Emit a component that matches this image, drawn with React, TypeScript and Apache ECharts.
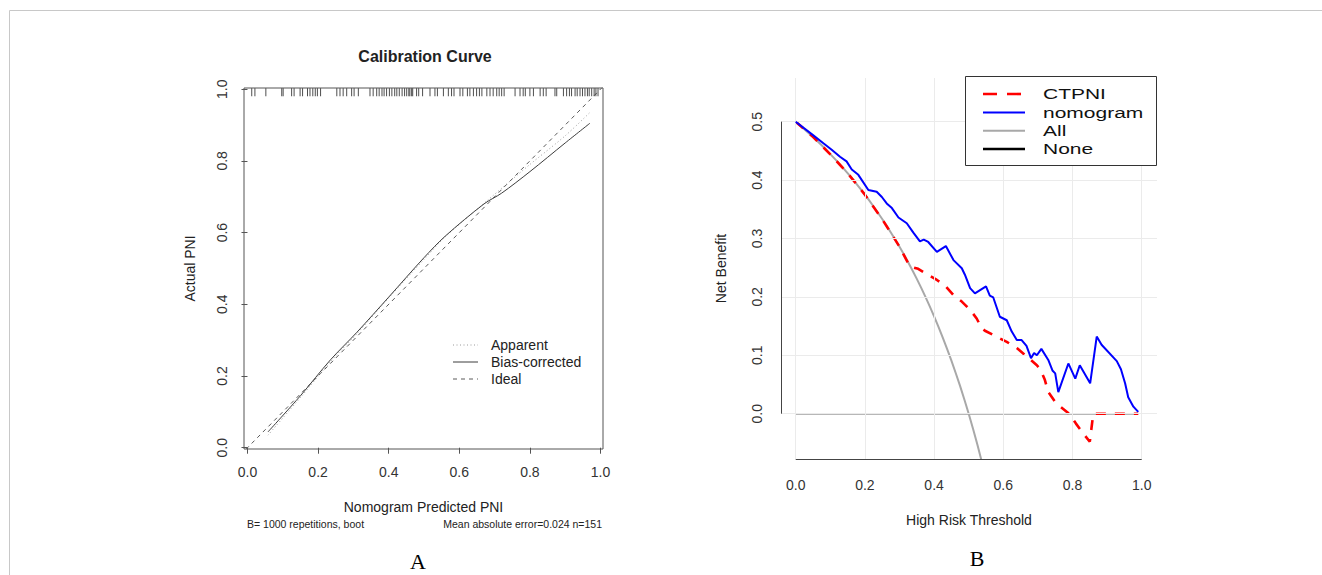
import React, { useEffect, useRef } from "react";
import * as echarts from "echarts";

const FONT = "'Liberation Sans', Arial, Helvetica, sans-serif";

// ---------- Panel A: calibration curve ----------
const calTicks = [0, 0.2, 0.4, 0.6, 0.8, 1.0];
const idealX = [-0.02, 1.02];
const idealY = [-0.02, 1.02];
const apparentX = [0.058, 0.15, 0.235, 0.31, 0.4, 0.5, 0.56, 0.68, 0.8, 0.9, 0.97];
const apparentY = [0.035, 0.14, 0.24, 0.318, 0.418, 0.525, 0.588, 0.69, 0.79, 0.87, 0.935];
const biasX = [0.058, 0.15, 0.235, 0.31, 0.4, 0.5, 0.56, 0.67, 0.72, 0.8, 0.9, 0.97];
const biasY = [0.044, 0.145, 0.245, 0.322, 0.42, 0.53, 0.59, 0.68, 0.71, 0.77, 0.85, 0.905];
const rugPredicted = [
  0.012, 0.021, 0.052, 0.097, 0.101, 0.125, 0.132, 0.149, 0.156, 0.17, 0.177, 0.185, 0.192,
  0.198, 0.207, 0.253, 0.262, 0.271, 0.281, 0.295, 0.302, 0.314, 0.347, 0.356, 0.366, 0.373,
  0.381, 0.387, 0.394, 0.402, 0.409, 0.417, 0.423, 0.43, 0.438, 0.445, 0.451, 0.457, 0.46,
  0.465, 0.468, 0.479, 0.485, 0.496, 0.517, 0.531, 0.538, 0.555, 0.569, 0.578, 0.585, 0.602,
  0.61, 0.623, 0.63, 0.64, 0.649, 0.657, 0.664, 0.678, 0.687, 0.696, 0.706, 0.713, 0.72,
  0.727, 0.758, 0.772, 0.781, 0.787, 0.8, 0.81, 0.829, 0.838, 0.846, 0.871, 0.876, 0.895,
  0.904, 0.912, 0.918, 0.928, 0.934, 0.942, 0.949, 0.956, 0.963, 0.968, 0.975, 0.982, 0.987,
  0.993,
];
const calLegend = ["Apparent", "Bias-corrected", "Ideal"];

// ---------- Panel B: decision curve ----------
const dcaTicksX = [0, 0.2, 0.4, 0.6, 0.8, 1.0];
const dcaTicksY = [0, 0.1, 0.2, 0.3, 0.4, 0.5];
const ctpniX = [0, 0.05, 0.1, 0.15, 0.2, 0.25, 0.3, 0.33, 0.354, 0.379, 0.408, 0.432, 0.456, 0.48,
  0.504, 0.523, 0.538, 0.547, 0.58, 0.61, 0.64, 0.668, 0.697, 0.708, 0.72, 0.73, 0.75, 0.765,
  0.79, 0.81, 0.83, 0.85, 0.86, 0.9, 0.95, 0.99];
const ctpniY = [0.5, 0.474, 0.444, 0.412, 0.375, 0.333, 0.286, 0.252, 0.248, 0.239, 0.229, 0.219,
  0.203, 0.192, 0.178, 0.163, 0.146, 0.142, 0.132, 0.123, 0.112, 0.098, 0.083, 0.075, 0.058,
  0.037, 0.02, 0.012, 0.0, -0.017, -0.033, -0.048, 0.0, 0.0, 0.0, 0.0];
const nomoX = [0, 0.05, 0.08, 0.104, 0.128, 0.147, 0.162, 0.181, 0.21, 0.234, 0.249, 0.263, 0.278,
  0.297, 0.321, 0.34, 0.359, 0.37, 0.383, 0.408, 0.434, 0.456, 0.48, 0.489, 0.504, 0.518, 0.55,
  0.561, 0.571, 0.59, 0.61, 0.624, 0.639, 0.653, 0.667, 0.68, 0.689, 0.697, 0.71, 0.73, 0.742,
  0.75, 0.759, 0.788, 0.808, 0.821, 0.851, 0.87, 0.884, 0.928, 0.94, 0.952, 0.961, 0.976, 0.99];
const nomoY = [0.5, 0.477, 0.463, 0.452, 0.44, 0.432, 0.418, 0.409, 0.383, 0.38, 0.371, 0.36, 0.352,
  0.336, 0.326, 0.31, 0.295, 0.298, 0.294, 0.277, 0.287, 0.263, 0.249, 0.238, 0.215, 0.206, 0.218,
  0.202, 0.199, 0.166, 0.16, 0.141, 0.126, 0.126, 0.116, 0.095, 0.104, 0.1, 0.111, 0.092, 0.074,
  0.069, 0.037, 0.086, 0.06, 0.083, 0.052, 0.132, 0.118, 0.09, 0.076, 0.052, 0.028, 0.012, 0.003];
const allX = [0, 0.025, 0.05, 0.075, 0.1, 0.125, 0.15, 0.175, 0.2, 0.225, 0.25, 0.275, 0.3, 0.325,
  0.35, 0.375, 0.4, 0.425, 0.45, 0.475, 0.5, 0.525, 0.55];
const allY = [0.5, 0.4872, 0.4737, 0.4595, 0.4444, 0.4286, 0.4118, 0.3939, 0.375, 0.3548, 0.3333,
  0.3103, 0.2857, 0.2593, 0.2308, 0.2, 0.1667, 0.1304, 0.0909, 0.0476, 0, -0.0526, -0.1111];
const noneX = [0, 0.99];
const noneY = [0, 0];
const dcaLegend = ["CTPNI", "nomogram", "All", "None"];

const zip = (xs: number[], ys: number[]) => xs.map((x, i) => [x, ys[i]]);

// axis extents (R-style padding around the data ranges)
const A_X = { min: -0.0099, max: 1.0071 };
const A_Y = { min: -0.0036, max: 1.0033 };
const B_X = { min: -0.0425, max: 1.0442 };
const B_Y = { min: -0.0776, max: 0.5748 };

export default function App() {
  const ref = useRef<HTMLDivElement>(null);

  useEffect(() => {
    if (!ref.current) return;
    const chart = echarts.init(ref.current, undefined, { renderer: "svg" });
    const fmt = (v: number) => v.toFixed(1);
    const axisTextA = { fontSize: 14, color: "#333", fontFamily: FONT };

    const option: any = {
      animation: false,
      backgroundColor: "#ffffff",
      textStyle: { fontFamily: FONT },
      grid: [
        { left: 244, top: 88, width: 359, height: 361, show: true, borderColor: "#555", borderWidth: 1, backgroundColor: "transparent" },
        { left: 781, top: 78, width: 376, height: 381, show: false },
      ],
      xAxis: [
        {
          gridIndex: 0, type: "value", min: A_X.min, max: A_X.max,
          axisLine: { show: false },
          axisTick: { show: true, customValues: calTicks, length: 6, lineStyle: { color: "#555" } },
          axisLabel: { customValues: calTicks, formatter: fmt, margin: 16, ...axisTextA },
          splitLine: { show: false },
          name: "Nomogram Predicted PNI", nameLocation: "middle", nameGap: 51,
          nameTextStyle: { fontSize: 14, color: "#222", fontFamily: FONT },
        },
        {
          gridIndex: 1, type: "value", min: B_X.min, max: B_X.max,
          axisLine: { show: false },
          axisTick: { show: true, customValues: dcaTicksX, length: 7, lineStyle: { color: "#444" } },
          axisLabel: { customValues: dcaTicksX, formatter: fmt, margin: 19, ...axisTextA },
          splitLine: { show: false },
          name: "High Risk Threshold", nameLocation: "middle", nameGap: 54,
          nameTextStyle: { fontSize: 14, color: "#222", fontFamily: FONT },
        },
      ],
      yAxis: [
        {
          gridIndex: 0, type: "value", min: A_Y.min, max: A_Y.max,
          axisLine: { show: false },
          axisTick: { show: true, customValues: calTicks, length: 6, lineStyle: { color: "#555" } },
          axisLabel: { customValues: calTicks, formatter: fmt, margin: 15, rotate: 90, ...axisTextA },
          splitLine: { show: false },
          name: "Actual PNI", nameLocation: "middle", nameGap: 47,
          nameTextStyle: { fontSize: 14, color: "#222", fontFamily: FONT },
        },
        {
          gridIndex: 1, type: "value", min: B_Y.min, max: B_Y.max,
          axisLine: { show: false },
          axisTick: { show: true, customValues: dcaTicksY, length: 8, lineStyle: { color: "#444" } },
          axisLabel: { customValues: dcaTicksY, formatter: fmt, margin: 17, rotate: 90, ...axisTextA },
          splitLine: { show: false },
          name: "Net Benefit", nameLocation: "middle", nameGap: 53,
          nameTextStyle: { fontSize: 14, color: "#222", fontFamily: FONT },
        },
      ],
      series: [
        // ---- Panel A ----
        {
          name: "Ideal", type: "line", xAxisIndex: 0, yAxisIndex: 0, data: zip(idealX, idealY),
          showSymbol: false, symbol: "none", z: 3,
          lineStyle: { color: "#5a5a5a", width: 1, type: [4, 4] },
        },
        {
          name: "Apparent", type: "line", xAxisIndex: 0, yAxisIndex: 0, data: zip(apparentX, apparentY),
          showSymbol: false, symbol: "none", smooth: 0.3, z: 3,
          lineStyle: { color: "#9a9a9a", width: 1, type: [1, 2.5] },
        },
        {
          name: "Bias-corrected", type: "line", xAxisIndex: 0, yAxisIndex: 0, data: zip(biasX, biasY),
          showSymbol: false, symbol: "none", smooth: 0.3, z: 4,
          lineStyle: { color: "#3c3c3c", width: 1 },
        },
        {
          name: "rug", type: "scatter", xAxisIndex: 0, yAxisIndex: 0,
          data: rugPredicted.map((v) => [v, 1]),
          symbol: "rect", symbolSize: [1, 8], symbolOffset: [0, 3], clip: false, z: 5,
          itemStyle: { color: "#222" }, silent: true,
        },
        // ---- Panel B: grid lines and axis lines ----
        {
          name: "gridlines", type: "line", xAxisIndex: 1, yAxisIndex: 1, data: [], z: 1, silent: true,
          markLine: {
            silent: true, symbol: ["none", "none"], label: { show: false }, animation: false,
            lineStyle: { color: "#ebebeb", width: 1, type: "solid" },
            data: [
              ...dcaTicksX.map((v) => ({ xAxis: v })),
              ...dcaTicksY.map((v) => ({ yAxis: v })),
            ],
          },
        },
        {
          name: "axislines", type: "line", xAxisIndex: 1, yAxisIndex: 1, data: [], z: 6, silent: true, clip: false,
          markLine: {
            silent: true, symbol: ["none", "none"], label: { show: false }, animation: false,
            lineStyle: { color: "#444", width: 1, type: "solid" },
            data: [
              [{ coord: [dcaTicksX[0], B_Y.min] }, { coord: [dcaTicksX[dcaTicksX.length - 1], B_Y.min] }],
              [{ coord: [B_X.min, dcaTicksY[0]] }, { coord: [B_X.min, dcaTicksY[dcaTicksY.length - 1]] }],
            ],
          },
        },
        {
          name: "None", type: "line", xAxisIndex: 1, yAxisIndex: 1, data: zip(noneX, noneY),
          showSymbol: false, symbol: "none", z: 2,
          lineStyle: { color: "#707070", width: 1.6 },
        },
        {
          name: "All", type: "line", xAxisIndex: 1, yAxisIndex: 1, data: zip(allX, allY),
          showSymbol: false, symbol: "none", smooth: 0.2, z: 3,
          lineStyle: { color: "#a8a8a8", width: 2 },
        },
        {
          name: "CTPNI", type: "line", xAxisIndex: 1, yAxisIndex: 1, data: zip(ctpniX, ctpniY),
          showSymbol: false, symbol: "none", z: 4,
          lineStyle: { color: "#ff0000", width: 2.6, type: [10, 9] },
        },
        {
          name: "nomogram", type: "line", xAxisIndex: 1, yAxisIndex: 1, data: zip(nomoX, nomoY),
          showSymbol: false, symbol: "none", z: 5,
          lineStyle: { color: "#0000ff", width: 2 },
        },
      ],
      graphic: [
        // outer frame
        { type: "line", shape: { x1: 9.5, y1: 10.5, x2: 1322, y2: 10.5 }, style: { stroke: "#c8c8c8", lineWidth: 1 }, silent: true },
        { type: "line", shape: { x1: 9.5, y1: 10.5, x2: 9.5, y2: 575 }, style: { stroke: "#c8c8c8", lineWidth: 1 }, silent: true },
        // title A
        { type: "text", x: 425, y: 56, style: { text: "Calibration Curve", fontSize: 16, fontWeight: "bold", fontFamily: FONT, fill: "#222", align: "center", verticalAlign: "middle" } },
        { type: "text", x: 247, y: 524, style: { text: "B= 1000 repetitions, boot", fontSize: 10.5, fontFamily: FONT, fill: "#222", align: "left", verticalAlign: "middle" } },
        { type: "text", x: 602, y: 524, style: { text: "Mean absolute error=0.024 n=151", fontSize: 10.5, fontFamily: FONT, fill: "#222", align: "right", verticalAlign: "middle" } },
        { type: "text", x: 418, y: 561, style: { text: "A", fontSize: 22, fontFamily: "'Liberation Serif', 'Times New Roman', serif", fill: "#000", align: "center", verticalAlign: "middle" } },
        { type: "text", x: 977, y: 558, style: { text: "B", fontSize: 22, fontFamily: "'Liberation Serif', 'Times New Roman', serif", fill: "#000", align: "center", verticalAlign: "middle" } },
        // legend A
        { type: "line", shape: { x1: 453, y1: 345, x2: 478, y2: 345 }, style: { stroke: "#9a9a9a", lineWidth: 1, lineDash: [1, 2.5] } },
        { type: "line", shape: { x1: 453, y1: 362, x2: 478, y2: 362 }, style: { stroke: "#3c3c3c", lineWidth: 1 } },
        { type: "line", shape: { x1: 453, y1: 379, x2: 478, y2: 379 }, style: { stroke: "#5a5a5a", lineWidth: 1, lineDash: [4, 4] } },
        ...calLegend.map((t, i) => ({
          type: "text", x: 491, y: 345 + i * 17,
          style: { text: t, fontSize: 14, fontFamily: FONT, fill: "#222", align: "left", verticalAlign: "middle" },
        })),
        // legend B
        { type: "rect", shape: { x: 965.5, y: 76.5, width: 191, height: 89 }, style: { fill: "#fff", stroke: "#333", lineWidth: 1 }, z: 10 },
        { type: "line", shape: { x1: 983, y1: 94, x2: 1025, y2: 94 }, style: { stroke: "#ff0000", lineWidth: 2.6, lineDash: [14, 10] }, z: 11 },
        { type: "line", shape: { x1: 983, y1: 112.5, x2: 1025, y2: 112.5 }, style: { stroke: "#0000ff", lineWidth: 2 }, z: 11 },
        { type: "line", shape: { x1: 983, y1: 130.7, x2: 1025, y2: 130.7 }, style: { stroke: "#a8a8a8", lineWidth: 2 }, z: 11 },
        { type: "line", shape: { x1: 983, y1: 149, x2: 1025, y2: 149 }, style: { stroke: "#000", lineWidth: 2.4 }, z: 11 },
        ...dcaLegend.map((t, i) => ({
          type: "text", x: 1043, y: 94 + i * 18.3, scaleX: 1.4, z: 11,
          style: { text: t, fontSize: 15, fontFamily: FONT, fill: "#111", align: "left", verticalAlign: "middle" },
        })),
      ],
    };

    chart.setOption(option);
    return () => chart.dispose();
  }, []);

  return (
    <div
      ref={ref}
      style={{ position: "fixed", left: 0, top: 0, width: 1322, height: 575, background: "#fff" }}
    />
  );
}
